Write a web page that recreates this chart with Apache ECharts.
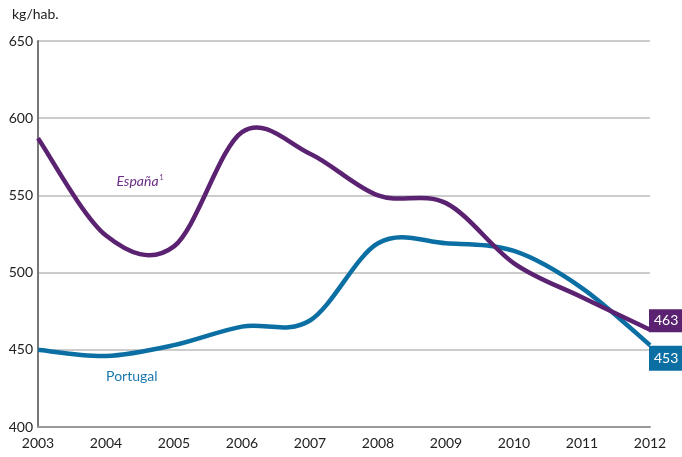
<!DOCTYPE html>
<html lang="es">
<head>
    <meta charset="UTF-8">
    <title>kg/hab.</title>
    <script src="https://cdn.jsdelivr.net/npm/echarts@6/dist/echarts.min.js"></script>
    <style>
        html, body {margin: 0; padding: 0; background: #fff;}
        #chart {width: 682px; height: 457px;}
    </style>
</head>
<body>
<div id="chart"></div>
<script>
    /*datos*/
    var years = [2003, 2004, 2005, 2006, 2007, 2008, 2009, 2010, 2011, 2012];
    var espana = [587, 524, 517, 591, 577, 550, 545, 506, 484, 463];
    var portugal = [450, 446, 453, 465, 469, 519, 519, 514, 490, 453];
    var yTicks = [400, 450, 500, 550, 600, 650];

    var colors = ['#5a2270', '#0b6fa4'];
    var fontFam = 'Lato';

    function pairs(vals) {
        var out = [];
        for (var i = 0; i < years.length; i++) {
            out.push([years[i], vals[i]]);
        }
        return out;
    }

    /*curva suave tipo Excel (Catmull-Rom) sobre las coordenadas del eje*/
    function smoothRender(vals, color, labelDy, labelPad) {
        return function (params, api) {
            var n = vals.length;
            var idx = params.dataIndex;
            if (idx === n - 1) {
                var e = api.coord([years[n - 1], vals[n - 1]]);
                return {
                    type: 'text',
                    z2: 10,
                    x: e[0] - 1,
                    y: e[1] + labelDy,
                    style: {
                        text: String(vals[n - 1]),
                        fill: '#fff',
                        font: '14px ' + fontFam,
                        align: 'left',
                        verticalAlign: 'middle',
                        backgroundColor: color,
                        padding: labelPad
                    }
                };
            }
            if (idx !== 0) return;
            var p = [];
            for (var i = 0; i < n; i++) p.push(api.coord([years[i], vals[i]]));
            var d = 'M' + p[0][0] + ' ' + p[0][1];
            for (var k = 0; k < n - 1; k++) {
                var p0 = p[k > 0 ? k - 1 : k];
                var p1 = p[k];
                var p2 = p[k + 1];
                var p3 = p[k + 2 < n ? k + 2 : k + 1];
                var c1x = p1[0] + (p2[0] - p0[0]) / 6;
                var c1y = p1[1] + (p2[1] - p0[1]) / 6;
                var c2x = p2[0] - (p3[0] - p1[0]) / 6;
                var c2y = p2[1] - (p3[1] - p1[1]) / 6;
                d += ' C' + c1x + ' ' + c1y + ' ' + c2x + ' ' + c2y + ' ' + p2[0] + ' ' + p2[1];
            }
            return {
                type: 'path',
                shape: {pathData: d},
                style: {stroke: color, lineWidth: 4.5, fill: 'none', lineCap: 'butt'}
            };
        };
    }

    var myChart = echarts.init(document.getElementById('chart'));
    var option = {
        animation: false,
        backgroundColor: '#fff',
        textStyle: {fontFamily: fontFam},
        grid: {left: 38, right: 32, top: 41, bottom: 30, containLabel: false},
        graphic: [{
            type: 'text',
            left: 12,
            top: 7,
            style: {text: 'kg/hab.', fontFamily: fontFam, fontSize: 14, fill: '#222'}
        }],
        xAxis: {
            type: 'value',
            min: years[0],
            max: years[years.length - 1],
            interval: 1,
            axisLine: {show: true, lineStyle: {color: '#999', width: 2}},
            axisTick: {show: false},
            splitLine: {show: false},
            axisLabel: {
                color: '#222', fontSize: 14, fontFamily: fontFam, margin: 9,
                formatter: function (v) { return String(v); }
            }
        },
        yAxis: {
            type: 'value',
            min: yTicks[0],
            max: yTicks[yTicks.length - 1],
            interval: 50,
            axisLine: {show: true, lineStyle: {color: '#777', width: 2}},
            axisTick: {show: false},
            splitLine: {show: true, lineStyle: {color: '#bbb', width: 1.5}},
            axisLabel: {color: '#222', fontSize: 14, fontFamily: fontFam, margin: 5}
        },
        series: [
            {
                name: 'Portugal',
                type: 'custom',
                clip: false,
                z: 2,
                data: pairs(portugal),
                renderItem: smoothRender(portugal, colors[1], 13, [6, 5, 5, 5]),
                markPoint: {
                    symbol: 'circle',
                    symbolSize: 1,
                    silent: true,
                    itemStyle: {color: 'rgba(0,0,0,0)'},
                    label: {
                        show: true,
                        position: 'inside',
                        formatter: 'Portugal',
                        color: '#1a78ad',
                        fontSize: 14,
                        fontFamily: fontFam
                    },
                    data: [{coord: [2004.38, 433]}]
                }
            },
            {
                name: 'España',
                type: 'custom',
                clip: false,
                z: 3,
                data: pairs(espana),
                renderItem: smoothRender(espana, colors[0], -9, [5, 5, 4, 5]),
                markPoint: {
                    symbol: 'circle',
                    symbolSize: 1,
                    silent: true,
                    itemStyle: {color: 'rgba(0,0,0,0)'},
                    label: {
                        show: true,
                        position: 'inside',
                        formatter: '{a|España}{s|1}',
                        rich: {
                            a: {color: '#6a2e86', fontSize: 14, fontStyle: 'italic', fontFamily: fontFam},
                            s: {color: '#6a2e86', fontSize: 7, fontFamily: fontFam, verticalAlign: 'top', padding: [0, 0, 8, 1]}
                        }
                    },
                    data: [{coord: [2004.5, 559]}]
                }
            }
        ]
    };
    myChart.setOption(option);
</script>
</body>
</html>
